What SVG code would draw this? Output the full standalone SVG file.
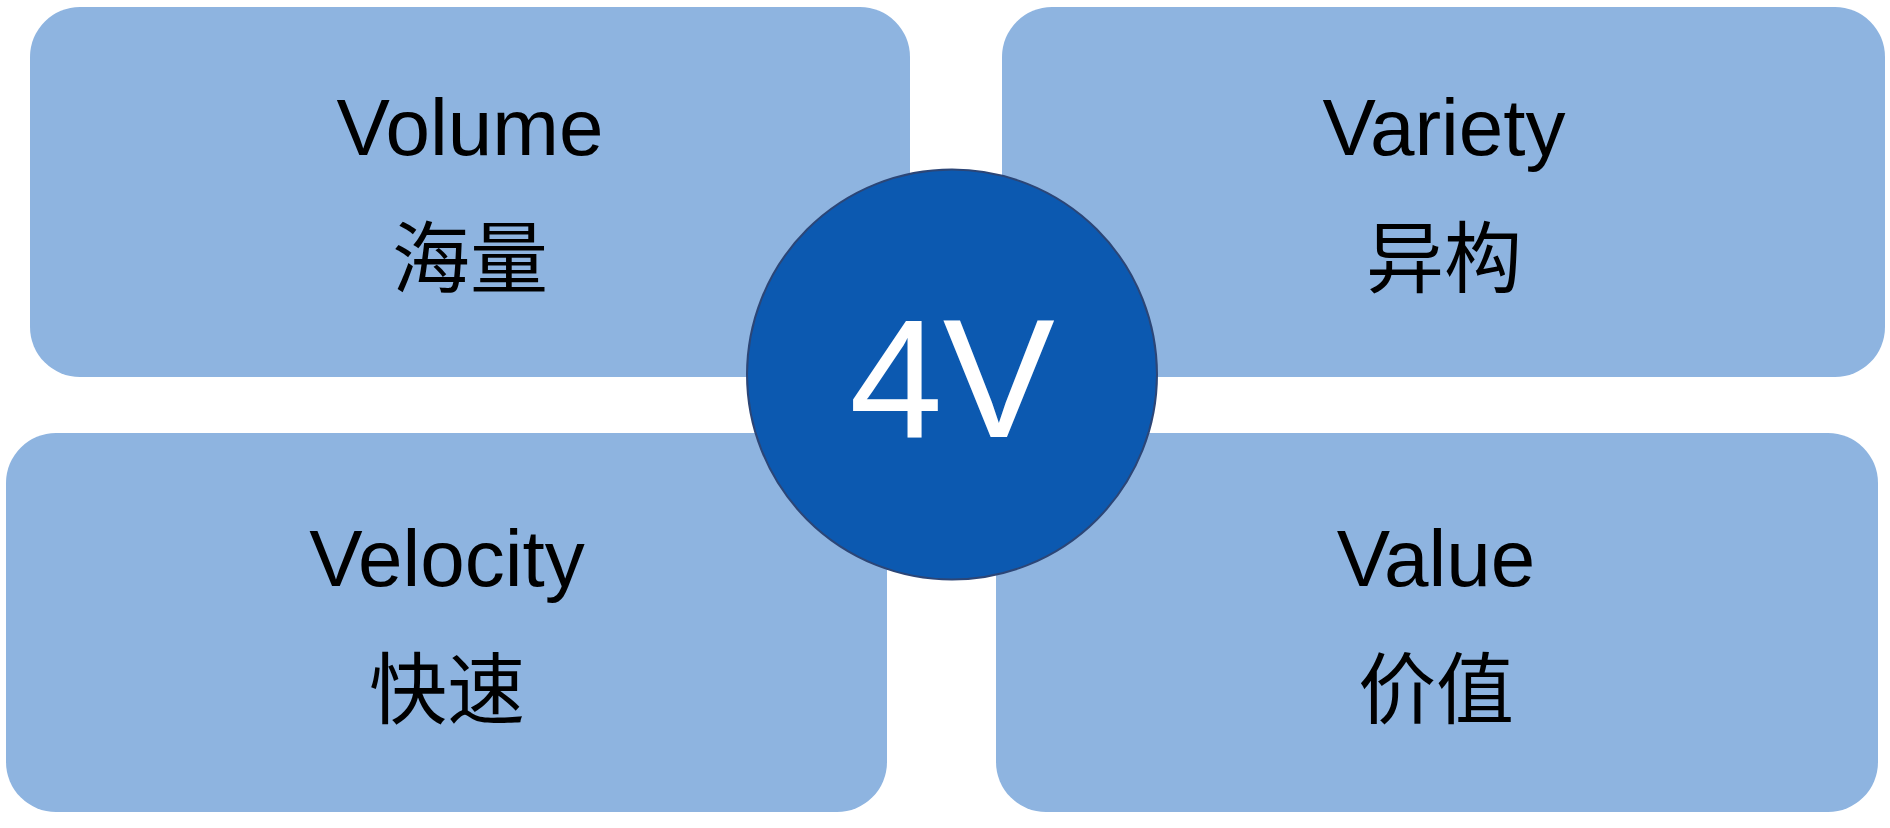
<svg xmlns="http://www.w3.org/2000/svg" width="1890" height="828" viewBox="0 0 1890 828">
  <style>
    .box { fill: #8eb4e0; }
    .en { font-family: "Liberation Sans", Arial, sans-serif; font-size: 80px; fill: #000; text-anchor: middle; }
    .zh { font-family: "Noto Sans CJK SC", "Noto Sans CJK JP", sans-serif; font-weight: 400; font-size: 78px; fill: #000; text-anchor: middle; }
    .hub { fill: #0c59b0; stroke: #2c4677; stroke-width: 2; }
    .hubtxt { font-family: "Liberation Sans", Arial, sans-serif; font-size: 168px; fill: #fff; text-anchor: middle; }
  </style>
  <rect width="1890" height="828" fill="#ffffff"/>
  <g id="connectors"/>
  <g id="volume">
    <rect class="box" x="30" y="7" width="880" height="370" rx="50" ry="50"/>
    <text class="en" x="470" y="155">Volume</text>
    <text class="zh" x="470" y="287">海量</text>
  </g>
  <g id="variety">
    <rect class="box" x="1002" y="7" width="883" height="370" rx="50" ry="50"/>
    <text class="en" x="1444" y="155">Variety</text>
    <text class="zh" x="1444" y="287">异构</text>
  </g>
  <g id="velocity">
    <rect class="box" x="6" y="433" width="881" height="379" rx="50" ry="50"/>
    <text class="en" x="447" y="586">Velocity</text>
    <text class="zh" x="447" y="718">快速</text>
  </g>
  <g id="value">
    <rect class="box" x="996" y="433" width="882" height="379" rx="50" ry="50"/>
    <text class="en" x="1436" y="586">Value</text>
    <text class="zh" x="1436" y="718">价值</text>
  </g>
  <g id="hub">
    <circle class="hub" cx="952" cy="374.5" r="205"/>
    <text class="hubtxt" x="952" y="437">4V</text>
  </g>
</svg>
